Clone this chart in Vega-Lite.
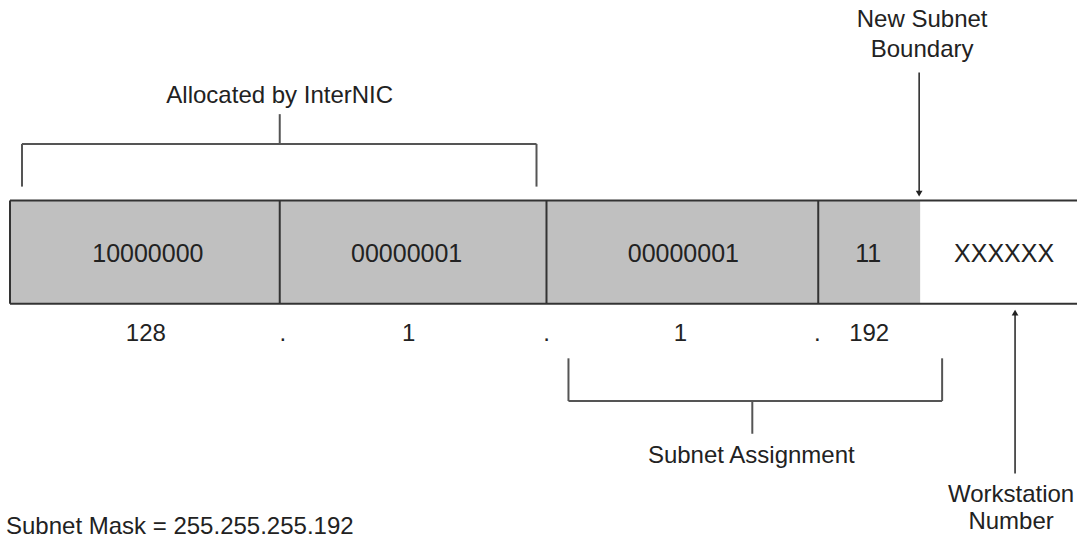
{
  "$schema": "https://vega.github.io/schema/vega-lite/v6.json",
  "width": 1078,
  "height": 539,
  "autosize": {"type": "fit", "contains": "padding"},
  "padding": 0,
  "background": "white",
  "config": {"view": {"stroke": null}},
  "datasets": {
    "fill": [{"x": 10, "x2": 921, "y": 202, "y2": 306}],
    "frame": [
      {"x": 10, "x2": 1078, "y": 202, "y2": 202},
      {"x": 10, "x2": 1078, "y": 306, "y2": 306},
      {"x": 10, "x2": 10, "y": 202, "y2": 306},
      {"x": 280, "x2": 280, "y": 202, "y2": 306},
      {"x": 547, "x2": 547, "y": 202, "y2": 306},
      {"x": 819, "x2": 819, "y": 202, "y2": 306}
    ],
    "brackets": [
      {"x": 22, "x2": 22, "y": 145, "y2": 188},
      {"x": 22, "x2": 537, "y": 145, "y2": 145},
      {"x": 537, "x2": 537, "y": 145, "y2": 188},
      {"x": 280, "x2": 280, "y": 115, "y2": 145},
      {"x": 569, "x2": 569, "y": 361, "y2": 404},
      {"x": 569, "x2": 943, "y": 404, "y2": 404},
      {"x": 943, "x2": 943, "y": 361, "y2": 404},
      {"x": 753, "x2": 753, "y": 404, "y2": 437}
    ],
    "arrows": [
      {"x": 920, "x2": 920, "y": 73, "y2": 194},
      {"x": 1016, "x2": 1016, "y": 316, "y2": 477}
    ],
    "heads": [
      {"x": 920, "y": 195, "dir": "down"},
      {"x": 1016, "y": 315, "dir": "up"}
    ],
    "bits": [
      {"x": 148, "y": 256, "label": "10000000"},
      {"x": 407, "y": 256, "label": "00000001"},
      {"x": 684, "y": 256, "label": "00000001"},
      {"x": 869, "y": 256, "label": "11"},
      {"x": 1005, "y": 256, "label": "XXXXXX"}
    ],
    "labels": [
      {"x": 146, "y": 337, "label": "128"},
      {"x": 283, "y": 337, "label": "."},
      {"x": 409, "y": 337, "label": "1"},
      {"x": 547, "y": 337, "label": "."},
      {"x": 681, "y": 337, "label": "1"},
      {"x": 818, "y": 337, "label": "."},
      {"x": 870, "y": 337, "label": "192"},
      {"x": 280, "y": 97, "label": "Allocated by InterNIC"},
      {"x": 923, "y": 20, "label": "New Subnet"},
      {"x": 923, "y": 50, "label": "Boundary"},
      {"x": 752, "y": 459, "label": "Subnet Assignment"},
      {"x": 1012, "y": 499, "label": "Workstation"},
      {"x": 1012, "y": 526, "label": "Number"}
    ],
    "mask": [{"x": 6, "y": 538, "label": "Subnet Mask = 255.255.255.192"}]
  },
  "encoding": {
    "x": {"field": "x", "type": "quantitative", "scale": {"domain": [0, 1078], "nice": false, "zero": false}, "axis": null},
    "y": {"field": "y", "type": "quantitative", "scale": {"domain": [0, 539], "reverse": true, "nice": false, "zero": false}, "axis": null}
  },
  "layer": [
    {"data": {"name": "fill"}, "mark": {"type": "rect", "fill": "#c0c0c0"}, "encoding": {"x2": {"field": "x2"}, "y2": {"field": "y2"}}},
    {"data": {"name": "frame"}, "mark": {"type": "rule", "color": "#333333", "strokeWidth": 2}, "encoding": {"x2": {"field": "x2"}, "y2": {"field": "y2"}}},
    {"data": {"name": "brackets"}, "mark": {"type": "rule", "color": "#555555", "strokeWidth": 2}, "encoding": {"x2": {"field": "x2"}, "y2": {"field": "y2"}}},
    {"data": {"name": "arrows"}, "mark": {"type": "rule", "color": "#222222", "strokeWidth": 1.5}, "encoding": {"x2": {"field": "x2"}, "y2": {"field": "y2"}}},
    {"data": {"name": "heads"}, "mark": {"type": "point", "filled": true, "color": "#222222", "size": 45, "opacity": 1}, "encoding": {"shape": {"field": "dir", "type": "nominal", "scale": {"domain": ["down", "up"], "range": ["triangle-down", "triangle-up"]}, "legend": null}}},
    {"data": {"name": "bits"}, "mark": {"type": "text", "font": "Liberation Sans", "fontSize": 25, "color": "#222222", "align": "center", "baseline": "middle"}, "encoding": {"text": {"field": "label"}}},
    {"data": {"name": "labels"}, "mark": {"type": "text", "font": "Liberation Sans", "fontSize": 24, "color": "#222222", "align": "center", "baseline": "middle"}, "encoding": {"text": {"field": "label"}}},
    {"data": {"name": "mask"}, "mark": {"type": "text", "font": "Liberation Sans", "fontSize": 24, "color": "#222222", "align": "left", "baseline": "alphabetic"}, "encoding": {"text": {"field": "label"}}}
  ]
}
